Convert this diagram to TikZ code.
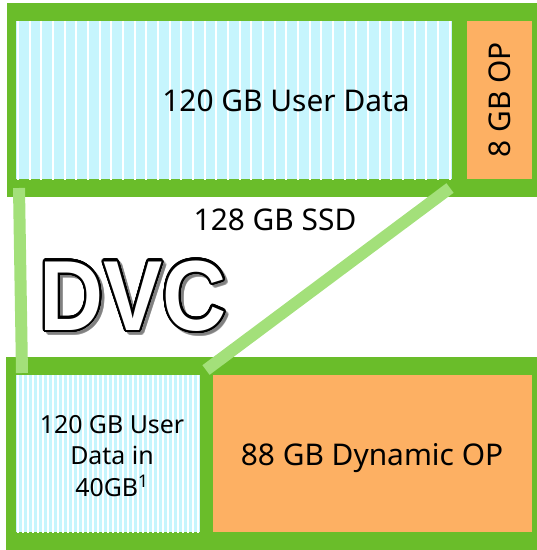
\documentclass[tikz,border=0pt]{standalone}
\usepackage{fontspec}
\setmainfont{Noto Sans}
\newfontfamily\titlefont{Liberation Sans}
\usepackage{xcolor}
\usepackage{contour}
\usetikzlibrary{calc}
\definecolor{ssdgreen}{HTML}{6ABD2A}
\definecolor{linkgreen}{HTML}{A3E07A}
\definecolor{datacyan}{HTML}{C6F5FD}
\definecolor{oporange}{HTML}{FDB063}
\contourlength{2.2pt}
\contournumber{40}

\begin{document}
\begin{tikzpicture}[x=1bp,y=-1bp,
	box/.style={anchor=north west, inner sep=0pt, outer sep=0pt},
	greenbox/.style={box, fill=ssdgreen},
	opbox/.style={box, fill=oporange},
	databox/.style={box, fill=datacyan},
	stripes/.style 2 args={path picture={
		\foreach \k in {0,...,95}
			\draw[white, line width=#2] ($(path picture bounding box.north west)+(\k*#1+2,0)$) -- ++(0,200);}},
	linkbar/.style={draw=linkgreen, line width=12bp},
	big/.style={font=\fontsize{30}{36}\selectfont},
	title/.style={font=\fontsize{100}{100}\selectfont\titlefont\bfseries, anchor=base, xscale=0.89}]
	\useasboundingbox (0,0) rectangle (537,550);
	% 128 GB drive
	\node[greenbox, minimum width=530bp, minimum height=194bp] (ssd) at (7,3) {};
	\node[databox, stripes={11.67}{2bp}, minimum width=436bp, minimum height=158bp] (user) at (16,21) {};
	\node[opbox, minimum width=65bp, minimum height=158bp] (op) at (467,21) {};
	\node[big, anchor=base] (userlbl) at (286,112) {120 GB User Data};
	\node[big, anchor=base, rotate=90] (oplbl) at (510,100) {8 GB OP};
	\node[big, anchor=base] (ssdlbl) at (275,230) {128 GB SSD};
	% same drive with DVC
	\node[greenbox, minimum width=531bp, minimum height=193bp] (dvc) at (6,357) {};
	\node[databox, stripes={5}{1.5bp}, minimum width=184bp, minimum height=157bp] (userdvc) at (16,375) {};
	\node[opbox, minimum width=319bp, minimum height=157bp] (dynop) at (213,375) {};
	\node[big, anchor=base] (dynlbl) at (372,465) {88 GB Dynamic OP};
	\node[font=\fontsize{25}{31.5}\selectfont, align=center] (dvclbl) at (112,456) {120 GB User\\Data in\\40GB\textsuperscript{1}};
	% title
	\node[title, opacity=0.3] (dvcshadow) at (136,333) {\contour{gray}{\textcolor{gray}{DVC}}};
	\node[title] (dvctitle) at (133,330) {\contour{black}{\textcolor{white}{DVC}}};
	% links
	\coordinate (ssdL) at (19,188);
	\coordinate (dvcL) at (22,373);
	\coordinate (ssdR) at (450,188);
	\coordinate (dvcR) at (206,370);
	\draw[linkbar] (ssdL) -- (dvcL);
	\draw[linkbar] (ssdR) -- (dvcR);
\end{tikzpicture}
\end{document}
